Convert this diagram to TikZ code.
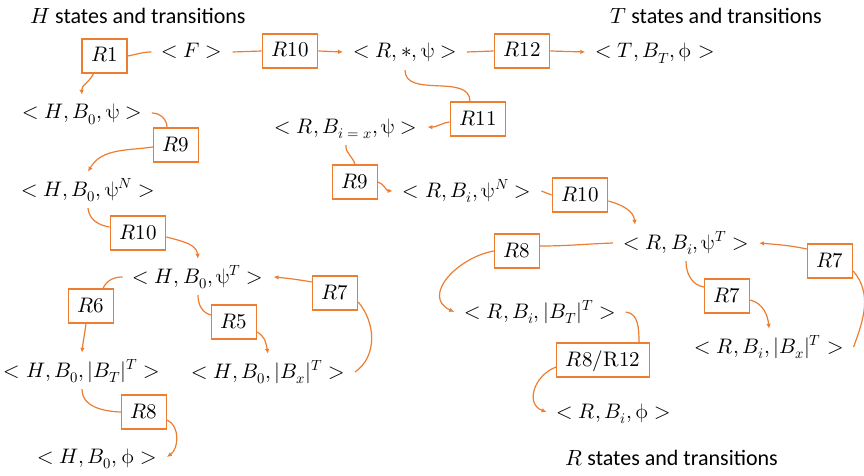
\documentclass[tikz,border=0pt]{standalone}
\usepackage{fontspec}
\usepackage{unicode-math}
\setmainfont{Carlito}
\setmathfont{Latin Modern Math}
\usetikzlibrary{arrows.meta}
\definecolor{ora}{HTML}{ED7D31}
\begin{document}
\begin{tikzpicture}[x=1pt,y=1pt,
 every node/.style={font=\fontsize{21}{25}\selectfont},
 st/.style={inner xsep=10pt, inner ysep=0pt, text height=12pt, text depth=0pt, minimum height=36pt},
 rb/.style={draw=ora, line width=1.3pt, fill=white, inner xsep=9pt, inner ysep=0pt, text height=13pt, text depth=1pt, minimum height=34pt, minimum width=45pt},
 con/.style={draw=ora, line width=1.2pt},
 arr/.style={con, -{Latex[length=5pt,width=4.5pt]}},
 lbl/.style={inner sep=0pt, anchor=west, font=\fontsize{22}{26}\selectfont}
]
\useasboundingbox (0,0) rectangle (864,-476);
% labels
\node[lbl] (HL) at (30,-16) {$H$ states and transitions};
\node[lbl] (TL) at (610,-16) {$T$ states and transitions};
\node[lbl] (RL) at (565,-458) {$R$ states and transitions};
% states
\node[st] (F) at (192,-52) {$<F>$};
\node[st] (RS) at (405,-52) {$<R,{*},\uppsi>$};
\node[st] (T) at (655,-52) {$<T,B_T,\upphi>$};
\node[st] (Rix) at (346,-127) {$<R,B_{i\;=\;x},\uppsi>$};
\node[st] (RpsiN) at (467,-191) {$<R,B_i,\uppsi^N>$};
\node[st] (RpsiT) at (686,-243) {$<R,B_i,\uppsi^T>$};
\node[st] (RBT) at (540,-312) {$<R,B_i,|B_T|^T>$};
\node[st] (RBx) at (769,-347) {$<R,B_i,|B_x|^T>$};
\node[st] (Rphi) at (614,-412) {$<R,B_i,\upphi>$};
\node[st] (HB) at (82,-113) {$<H,B_0,\uppsi>$};
\node[st] (HN) at (88,-190) {$<H,B_0,\uppsi^N>$};
\node[st] (HT) at (198,-277) {$<H,B_0,\uppsi^T>$};
\node[st] (HBT) at (82,-371) {$<H,B_0,|B_T|^T>$};
\node[st] (HBx) at (268,-372) {$<H,B_0,|B_x|^T>$};
\node[st] (Hphi) at (97,-457) {$<H,B_0,\upphi>$};
% rule boxes
\node[rb] (R1) at (104.5,-56) {$R1$};
\node[rb] (R10a) at (290,-51) {$R10$};
\node[rb] (R12) at (522,-51) {$R12$};
\node[rb] (R11) at (478,-119) {$R11$};
\node[rb] (R9r) at (355,-182) {$R9$};
\node[rb] (R10r) at (580,-195) {$R10$};
\node[rb] (R8r) at (517,-251) {$R8$};
\node[rb] (R7u) at (830,-261) {$R7$};
\node[rb] (R7l) at (727,-296) {$R7$};
\node[rb] (R812) at (603,-360) {$R8/\symup{R12}$};
\node[rb] (R9l) at (176,-145) {$R9$};
\node[rb] (R10l) at (138,-233) {$R10$};
\node[rb] (R6) at (91,-306) {$R6$};
\node[rb] (R5) at (234,-322) {$R5$};
\node[rb] (R7h) at (335,-293) {$R7$};
\node[rb] (R8l) at (144,-412) {$R8$};
% connectors top
\draw[con] (F.west) to[out=180,in=10] (R1.east);
\draw[arr] ([xshift=-11pt]R1.south) to[out=-115,in=95] (HB.north);
\draw[con] (F.east) -- (R10a.west);
\draw[arr] (R10a.east) -- (RS.west);
\draw[con] (RS.east) -- (R12.west);
\draw[arr] (R12.east) -- (T.west);
% R side
\draw[con] (RS.south) to[out=-90,in=90] ([xshift=-8pt]R11.north);
\draw[arr] ([yshift=-3pt]R11.west) to[out=188,in=-2] (Rix.east);
\draw[con] (Rix.south) to[out=-95,in=105] (R9r.north);
\draw[arr] (R9r.east) to[out=-20,in=178] (RpsiN.west);
\draw[con] (RpsiN.east) -- (R10r.west);
\draw[arr] ([yshift=-6pt]R10r.east) to[out=-15,in=95] ([xshift=22pt]RpsiT.north west);
\draw[con] (RpsiT.west) to[out=182,in=0] ([yshift=5pt]R8r.east);
\draw[arr] (R8r.west) to[out=190,in=155,looseness=1.3] (RBT.west);
\draw[con] (RBT.east) to[out=-5,in=90] ([xshift=36pt]R812.north);
\draw[arr] ([yshift=-7pt]R812.west) to[out=200,in=160,looseness=1.3] (Rphi.west);
\draw[con] (RpsiT.south) to[out=-90,in=170] ([yshift=9pt]R7l.west);
\draw[arr] ([yshift=-4pt]R7l.east) to[out=-15,in=95] (RBx.north);
\draw[con] (RBx.east) to[out=70,in=-50] ([yshift=-10pt]R7u.east);
\draw[arr] ([yshift=12pt]R7u.west) to[out=168,in=-5] (RpsiT.east);
% H side
\draw[con] (HB.east) to[out=0,in=90] ([xshift=-9pt]R9l.north);
\draw[arr] ([yshift=-2pt]R9l.west) to[out=188,in=60] (HN.north);
\draw[con] (HN.south) to[out=-85,in=172] ([yshift=6pt]R10l.west);
\draw[arr] ([yshift=-4pt]R10l.east) to[out=-15,in=95] (HT.north);
\draw[con] (HT.west) to[out=180,in=65] ([xshift=12pt]R6.north);
\draw[arr] ([xshift=-5pt]R6.south) to[out=-97,in=85] (HBT.north);
\draw[con] (HT.south) to[out=-90,in=165] ([yshift=7pt]R5.west);
\draw[arr] ([yshift=-10pt]R5.east) to[out=-30,in=100] (HBx.north);
\draw[con] (HBx.east) to[out=35,in=-50] ([yshift=-9pt]R7h.east);
\draw[arr] ([yshift=11pt]R7h.west) to[out=170,in=-5] (HT.east);
\draw[con] (HBT.south) to[out=-90,in=178] (R8l.west);
\draw[arr] ([yshift=-8pt]R8l.east) to[out=-25,in=35] (Hphi.east);
\end{tikzpicture}
\end{document}
